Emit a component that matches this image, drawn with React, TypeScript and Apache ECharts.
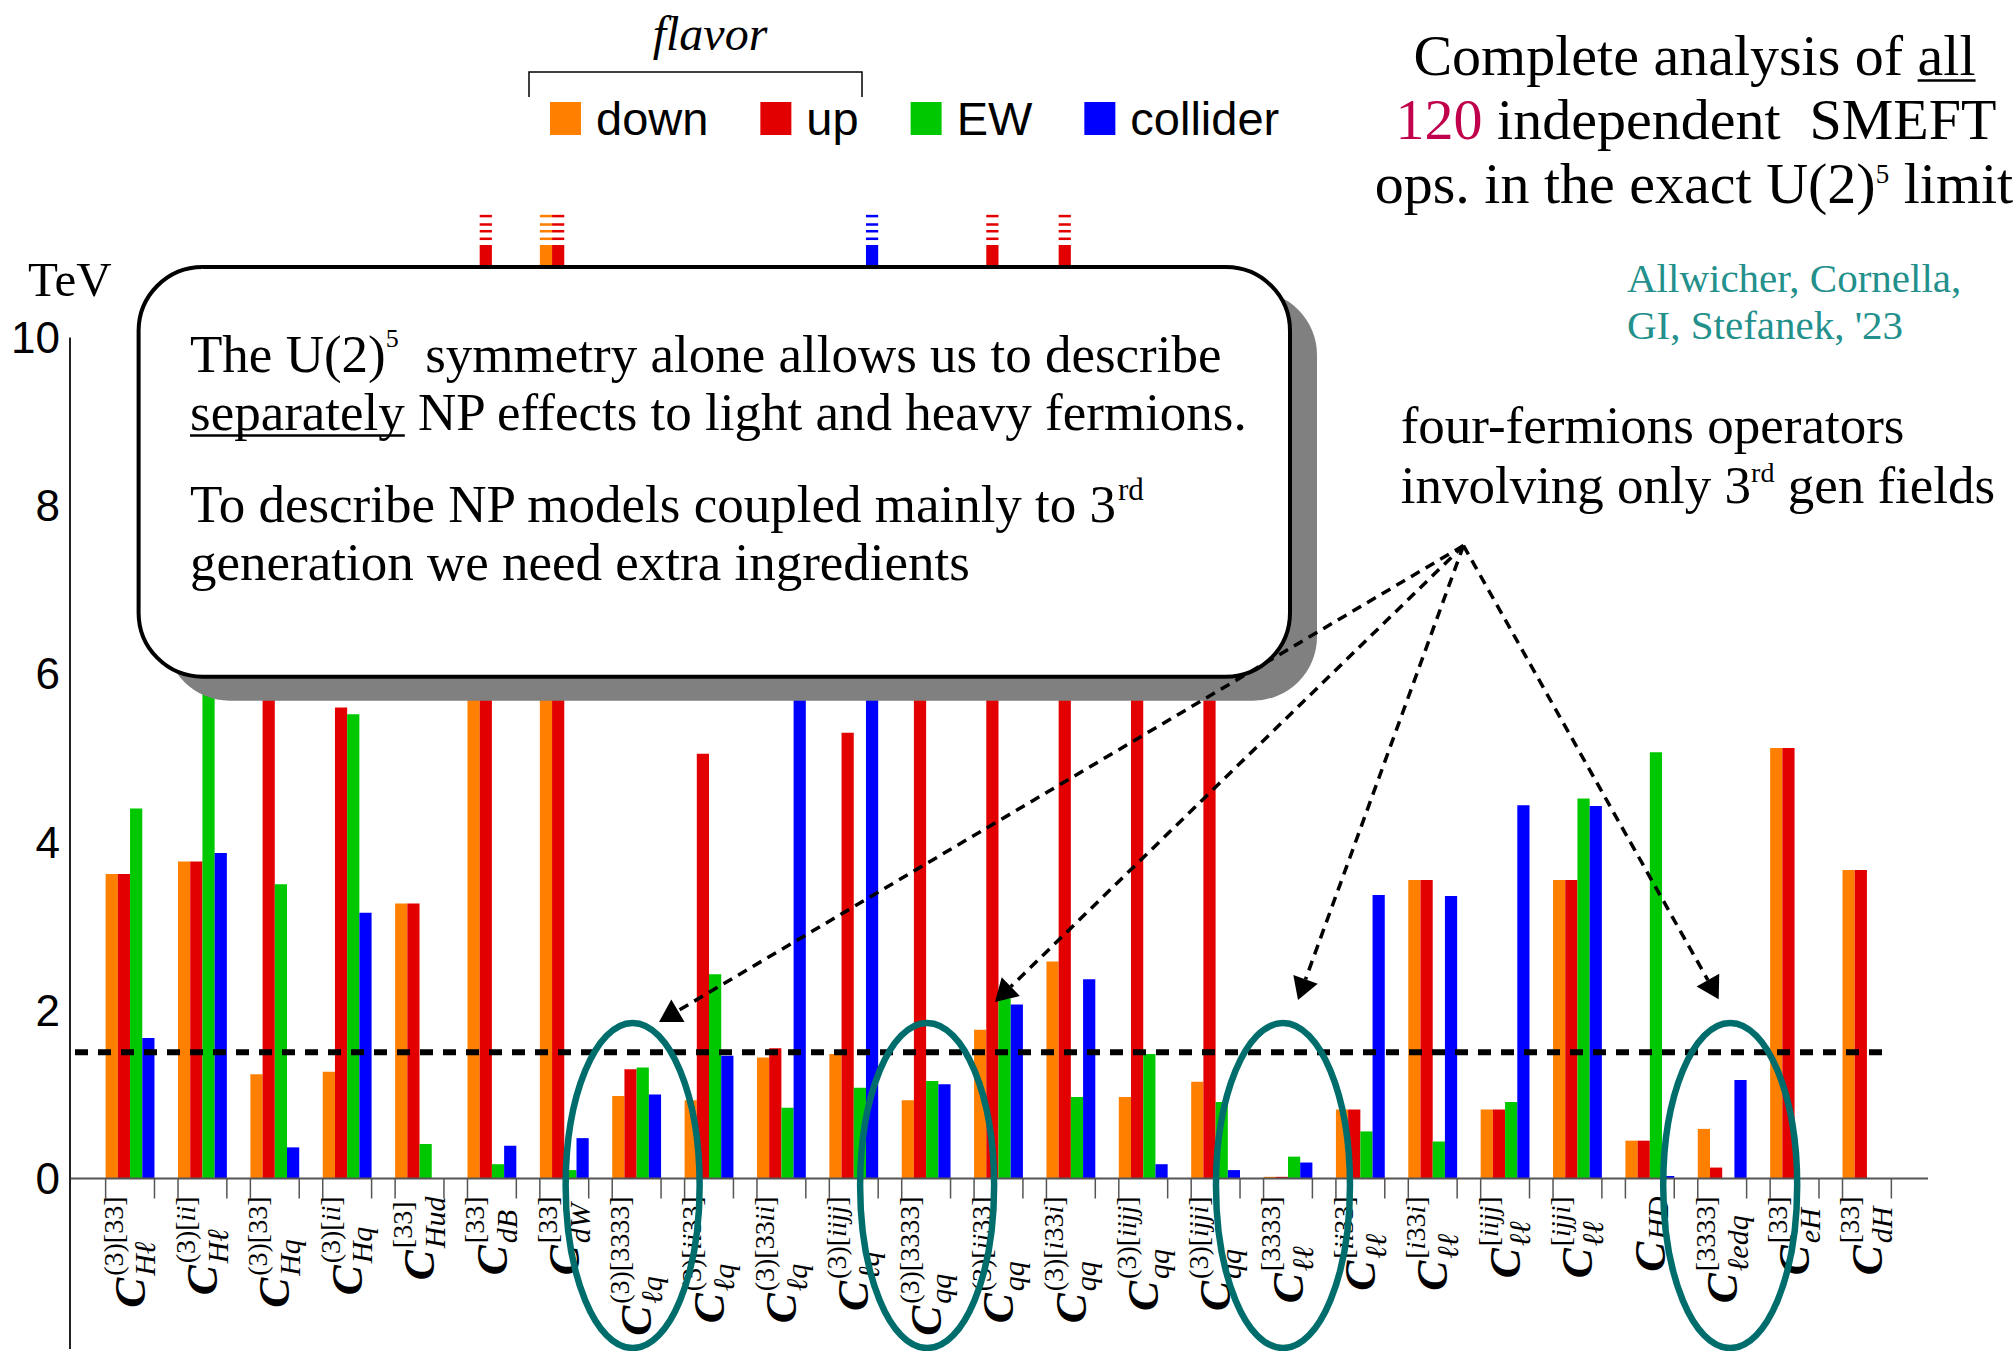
import React, { useEffect, useRef } from 'react';
import * as echarts from 'echarts';

// ---------- data ----------
const supLabels = ['(3)[33]', '(3)[ii]', '(3)[33]', '(3)[ii]', '[33]', '[33]', '[33]', '(3)[3333]', '(3)[ii33]', '(3)[33ii]', '(3)[iijj]', '(3)[3333]', '(3)[ii33]', '(3)[i33i]', '(3)[iijj]', '(3)[ijji]', '[3333]', '[ii33]', '[i33i]', '[iijj]', '[ijji]', '', '[3333]', '[33]', '[33]'];
const subLabels = ['Hℓ', 'Hℓ', 'Hq', 'Hq', 'Hud', 'dB', 'dW', 'ℓq', 'ℓq', 'ℓq', 'ℓq', 'qq', 'qq', 'qq', 'qq', 'qq', 'ℓℓ', 'ℓℓ', 'ℓℓ', 'ℓℓ', 'ℓℓ', 'HD', 'ℓedq', 'eH', 'dH'];
const categories = subLabels.map((s, i) => `C_${s}^${supLabels[i]}`);

const seriesNames = ['down', 'up', 'EW', 'collider'];
const seriesColors = ['#ff8000', '#e30000', '#00c800', '#0000ff'];

const down = [3.62, 3.77, 1.24, 1.27, 3.27, 9.0, 11.1, 0.98, 0.93, 1.44, 1.48, 0.93, 1.77, 2.58, 0.97, 1.15, 0.02, 0.82, 3.55, 0.82, 3.55, 0.45, 0.59, 5.12, 3.67];
const up = [3.62, 3.77, 8.0, 5.6, 3.27, 11.1, 11.1, 1.3, 5.05, 1.55, 5.3, 8.5, 11.1, 11.1, 7.8, 9.5, 0.02, 0.82, 3.55, 0.82, 3.55, 0.45, 0.13, 5.12, 3.67];
const ew = [4.4, 6.9, 3.5, 5.52, 0.41, 0.17, 0.1, 1.32, 2.43, 0.84, 1.08, 1.16, 2.14, 0.97, 1.48, 0.91, 0.26, 0.56, 0.44, 0.91, 4.52, 5.07, null, null, null];
const collider = [1.67, 3.87, 0.37, 3.16, null, 0.39, 0.48, 1.0, 1.46, 7.6, 11.1, 1.12, 2.07, 2.37, 0.17, 0.1, 0.19, 3.37, 3.36, 4.44, 4.43, 0.03, 1.17, null, null];

const yMin = 0;
const yMax = 10;
const yInterval = 2;
const threshold = 1.5;
const circled = [7, 11, 16, 22];

// ---------- layout constants ----------
const W = 2013;
const H = 1351;
const SERIF = "'Liberation Serif', 'DejaVu Serif', serif";
const SANS = "'Liberation Sans', Arial, sans-serif";
const GROUP_FRAC = 0.675;
const DASH_RANGES = [[11.16, 11.19], [11.25, 11.28], [11.33, 11.36], [11.43, 11.46]];

type Run = { t: string; size: number; it?: boolean; bold?: boolean; dy?: number; fill?: string; ul?: boolean; fam?: string };

let measureCtx: CanvasRenderingContext2D | null = null;
function fontOf(r: Run) {
  return `${r.it ? 'italic ' : ''}${r.bold ? 'bold' : 'normal'} ${r.size}px ${r.fam || SERIF}`;
}
function mw(t: string, font: string) {
  if (!measureCtx) measureCtx = document.createElement('canvas').getContext('2d');
  measureCtx!.font = font;
  return measureCtx!.measureText(t).width;
}
function runsWidth(runs: Run[]) {
  return runs.reduce((a, r) => a + mw(r.t, fontOf(r)), 0);
}
function textEl(t: string, x: number, baseline: number, r: Run, z: number) {
  return {
    type: 'text',
    z,
    silent: true,
    style: {
      text: t,
      x,
      y: baseline - 0.34 * r.size,
      font: fontOf(r),
      fill: r.fill || '#000',
      textAlign: 'left',
      textVerticalAlign: 'middle',
      align: 'left',
      verticalAlign: 'middle',
    },
  };
}
function layoutRuns(runs: Run[], x: number, baseline: number, align: 'left' | 'center' | 'right', z: number) {
  const total = runsWidth(runs);
  let cx = align === 'left' ? x : align === 'center' ? x - total / 2 : x - total;
  const els: any[] = [];
  runs.forEach((r) => {
    const w = mw(r.t, fontOf(r));
    const b = baseline + (r.dy || 0);
    els.push(textEl(r.t, cx, b, r, z));
    if (r.ul) {
      els.push({
        type: 'line', z, silent: true,
        shape: { x1: cx, y1: b + 5.5, x2: cx + w, y2: b + 5.5 },
        style: { stroke: r.fill || '#000', lineWidth: 2.6 },
      });
    }
    cx += w;
  });
  return els;
}
function mathRuns(s: string, size: number): Run[] {
  const runs: Run[] = [];
  for (const ch of s) {
    const it = /[A-Za-zℓ]/.test(ch);
    const last = runs[runs.length - 1];
    if (last && !!last.it === it) last.t += ch;
    else runs.push({ t: ch, size, it });
  }
  return runs;
}
function xLabel(cx: number, topY: number, sup: string, sub: string, z: number) {
  const supR = sup ? mathRuns(sup, 28) : [];
  const subR = mathRuns(sub, 30);
  const wSup = runsWidth(supR);
  const wSub = runsWidth(subR);
  const maxw = Math.max(wSup, wSub);
  const cRun: Run = { t: 'C', size: 45, it: true, bold: true };
  const wC = mw('C', fontOf(cRun));
  const children: any[] = [];
  children.push(textEl('C', -(maxw + 2) - wC, 15, cRun, z));
  const subBase = sup ? 25 : 18;
  children.push(...layoutRuns(supR, -maxw, -7.5, 'left', z));
  children.push(...layoutRuns(subR, -maxw, subBase, 'left', z));
  return { type: 'group', x: cx, y: topY, rotation: Math.PI / 2, children };
}

export default function App() {
  const ref = useRef<HTMLDivElement>(null);
  useEffect(() => {
    const chart = echarts.init(ref.current!, null, { renderer: 'svg' });
    const data = [down, up, ew, collider];
    const gridLeft = 93.87;
    const band = 72.37;
    const gridRight = W - (gridLeft + band * categories.length);

    const offScale: number[][] = [];
    data.forEach((arr, s) => arr.forEach((v, i) => { if (v != null && v > yMax) offScale.push([i, 0, s]); }));

    const option: any = {
      animation: false,
      backgroundColor: '#fff',
      textStyle: { fontFamily: SANS },
      grid: { left: gridLeft, right: gridRight, top: 337.6, bottom: 172.5, containLabel: false, outerBoundsMode: 'none' },
      legend: {
        data: seriesNames,
        left: 545,
        top: 90,
        itemWidth: 31,
        itemHeight: 33,
        itemGap: 52,
        icon: 'rect',
        selectedMode: false,
        textStyle: { fontSize: 47, fontFamily: SANS, color: '#000', padding: [0, 0, 6, 10] },
      },
      xAxis: {
        type: 'category',
        data: categories,
        axisLine: { show: false },
        axisTick: { show: false },
        axisLabel: { show: false },
        splitLine: { show: false },
      },
      yAxis: {
        type: 'value',
        min: yMin,
        max: yMax,
        interval: yInterval,
        axisLine: { show: false },
        axisTick: { show: false },
        splitLine: { show: false },
        axisLabel: { fontSize: 44, fontFamily: SANS, color: '#000', margin: 34 },
      },
      series: [
        ...seriesNames.map((name, s) => ({
          type: 'bar',
          name,
          data: data[s].map((v) => (v == null ? '-' : v)),
          barGap: '0%',
          barCategoryGap: `${(1 - GROUP_FRAC) * 100}%`,
          itemStyle: { color: seriesColors[s] },
          clip: false,
          z: 2,
          silent: true,
        })),
        {
          type: 'custom',
          name: 'offscale',
          data: offScale,
          encode: { x: 0, y: 1 },
          clip: false,
          z: 3,
          silent: true,
          renderItem: (params: any, api: any) => {
            const cat = api.value(0);
            const s = api.value(2);
            const c = api.coord([cat, 0]);
            const bw = api.size([1, 0])[0];
            const barW = (bw * GROUP_FRAC) / 4;
            const left = c[0] - (bw * GROUP_FRAC) / 2 + s * barW;
            return {
              type: 'group',
              children: DASH_RANGES.map(([lo, hi]) => {
                const yt = api.coord([cat, hi])[1];
                const yb = api.coord([cat, lo])[1];
                return { type: 'rect', shape: { x: left, y: yt, width: barW, height: yb - yt }, style: { fill: seriesColors[s] } };
              }),
            };
          },
        },
        {
          type: 'custom',
          name: 'ticks',
          data: categories.map((_, i) => [i, 0]),
          encode: { x: 0, y: 1 },
          clip: false,
          z: 3,
          silent: true,
          renderItem: (params: any, api: any) => {
            const c = api.coord([api.value(0), 0]);
            const bw = api.size([1, 0])[0];
            const half = (bw * GROUP_FRAC) / 2;
            return {
              type: 'group',
              children: [-half, half].map((d) => ({
                type: 'line',
                shape: { x1: c[0] + d, y1: c[1], x2: c[0] + d, y2: c[1] + 20 },
                style: { stroke: '#555', lineWidth: 1.5 },
              })),
            };
          },
        },
      ],
    };
    chart.setOption(option);

    const px = (c: number, v: number) => chart.convertToPixel({ gridIndex: 0 }, [c, v]) as number[];
    const y0 = px(0, 0)[1];
    const y10 = px(0, yMax)[1];
    const yT = px(0, threshold)[1];
    const els: any[] = [];

    // axes
    els.push({ type: 'line', z: 5, silent: true, shape: { x1: 70, y1: y0, x2: 1928, y2: y0 }, style: { stroke: '#555', lineWidth: 2 } });
    els.push({ type: 'line', z: 5, silent: true, shape: { x1: 70, y1: y10, x2: 70, y2: 1349 }, style: { stroke: '#222', lineWidth: 2 } });
    // threshold
    els.push({ type: 'line', z: 40, silent: true, shape: { x1: 75, y1: yT, x2: 1891, y2: yT }, style: { stroke: '#000', lineWidth: 6, lineDash: [13, 10] } });

    // x labels
    categories.forEach((_, i) => {
      els.push(xLabel(px(i, 0)[0], y0 + 18, supLabels[i], subLabels[i], 10));
    });

    // TeV
    els.push(...layoutRuns([{ t: 'TeV', size: 49 }], 28, 296, 'left', 10));

    // flavor bracket
    els.push(...layoutRuns([{ t: 'flavor', size: 48, it: true }], 710, 50, 'center', 10));
    els.push({ type: 'polyline', z: 10, silent: true, shape: { points: [[529, 97], [529, 72], [862, 72], [862, 97]] }, style: { stroke: '#000', lineWidth: 1.5, fill: 'none' } });

    // callout
    const bx = 138.6, by = 267, bw2 = 1151.4, bh = 409.7;
    els.push({ type: 'rect', z: 49, silent: true, shape: { x: bx + 27, y: by + 24, width: bw2, height: bh, r: 64 }, style: { fill: '#808080' } });
    els.push({ type: 'rect', z: 50, silent: true, shape: { x: bx, y: by, width: bw2, height: bh, r: 64 }, style: { fill: '#fff', stroke: '#000', lineWidth: 4 } });
    const bs = 53;
    els.push(...layoutRuns([{ t: 'The U(2)', size: bs }, { t: '5', size: 26, dy: -25 }, { t: '\u00a0 symmetry alone allows us to describe', size: bs }], 190, 372, 'left', 51));
    els.push(...layoutRuns([{ t: 'separately', size: bs, ul: true }, { t: ' NP effects to light and heavy fermions.', size: bs }], 190, 430, 'left', 51));
    els.push(...layoutRuns([{ t: 'To describe NP models coupled mainly to 3', size: bs }, { t: 'rd', size: 31, dy: -22 }], 190, 522, 'left', 51));
    els.push(...layoutRuns([{ t: 'generation we need extra ingredients', size: bs }], 190, 580, 'left', 51));

    // title block
    const ts = 58;
    els.push(...layoutRuns([{ t: 'Complete analysis of ', size: ts }, { t: 'all', size: ts, ul: true }], 1694.5, 75, 'center', 10));
    els.push(...layoutRuns([{ t: '120', size: ts, fill: '#c0004b' }, { t: ' independent\u00a0 SMEFT', size: ts }], 1696, 139.6, 'center', 10));
    els.push(...layoutRuns([{ t: 'ops. in the exact U(2)', size: ts }, { t: '5', size: 27, dy: -20 }, { t: ' limit', size: ts }], 1694, 203.5, 'center', 10));
    const teal = '#23908c';
    els.push(...layoutRuns([{ t: 'Allwicher, Cornella,', size: 41, fill: teal }], 1627, 292, 'left', 10));
    els.push(...layoutRuns([{ t: "GI, Stefanek, '23", size: 41, fill: teal }], 1627, 338.6, 'left', 10));
    els.push(...layoutRuns([{ t: 'four-fermions operators', size: 53 }], 1400.7, 443, 'left', 10));
    els.push(...layoutRuns([{ t: 'involving only 3', size: 53 }, { t: 'rd', size: 28, dy: -21 }, { t: ' gen fields', size: 53 }], 1400.7, 503.5, 'left', 10));

    // ellipses
    const ellOff = [-4, 1, -5, 8];
    circled.forEach((c, k) => {
      els.push({ type: 'ellipse', z: 70, silent: true, shape: { cx: px(c, 0)[0] + ellOff[k], cy: 1185.5, rx: 67, ry: 162.5 }, style: { fill: 'none', stroke: '#006d6d', lineWidth: 6.5 } });
    });

    // arrows
    const S = [1463.5, 545.6];
    const tips = [[659, 1022], [995, 1002], [1298, 1000], [1718.7, 999.3]];
    tips.forEach((T) => {
      const dx = T[0] - S[0], dy = T[1] - S[1];
      const L = Math.hypot(dx, dy);
      const ux = dx / L, uy = dy / L;
      const base = [T[0] - 22 * ux, T[1] - 22 * uy];
      const px2 = -uy, py2 = ux;
      els.push({ type: 'line', z: 80, silent: true, shape: { x1: S[0], y1: S[1], x2: base[0], y2: base[1] }, style: { stroke: '#000', lineWidth: 3.5, lineDash: [10, 7] } });
      els.push({ type: 'polygon', z: 80, silent: true, shape: { points: [T, [base[0] + 13 * px2, base[1] + 13 * py2], [base[0] - 13 * px2, base[1] - 13 * py2]] }, style: { fill: '#000' } });
    });

    chart.setOption({ graphic: { elements: els } });
    return () => chart.dispose();
  }, []);
  return <div ref={ref} style={{ position: 'fixed', left: 0, top: 0, width: W, height: H, background: '#fff' }} />;
}
